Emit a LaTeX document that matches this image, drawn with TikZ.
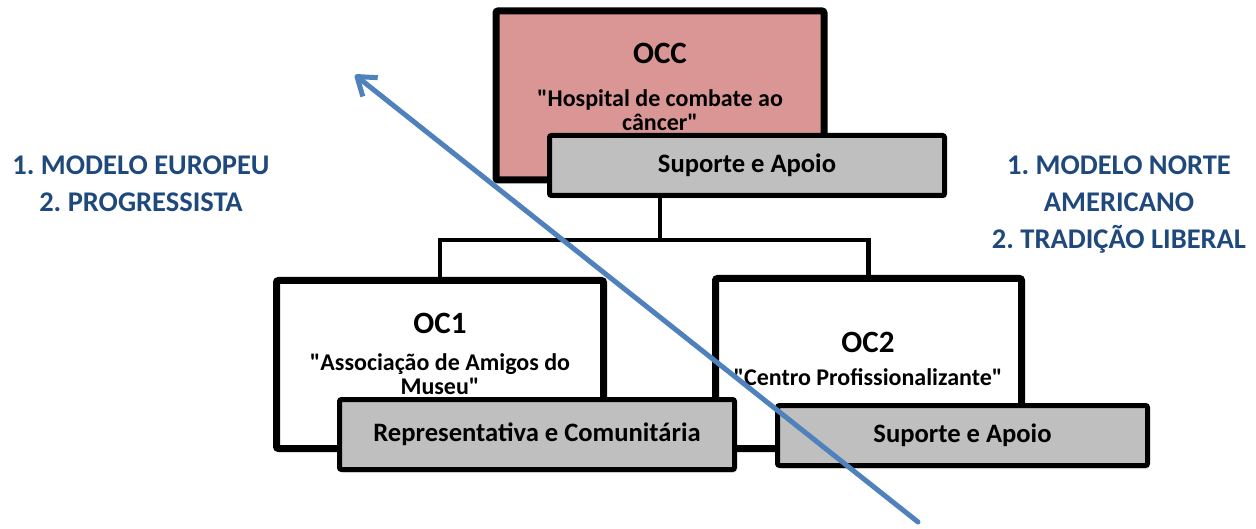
\documentclass[tikz,border=0pt]{standalone}
\usepackage{fontspec}
\setmainfont{Carlito}[Ligatures=TeXOff]
\usetikzlibrary{arrows.meta,shadows}
\definecolor{occfill}{HTML}{D99694}
\definecolor{bandfill}{HTML}{BFBFBF}
\definecolor{modelblue}{HTML}{1F497D}
\definecolor{arrowblue}{HTML}{4F81BD}
\newcommand{\dq}{\symbol{34}}
\frenchspacing
\begin{document}
\begin{tikzpicture}[x=1pt,y=-1pt,
  softshadow/.style={drop shadow={opacity=0.25,shadow xshift=2pt,shadow yshift=-3pt}},
  orgbox/.style={draw=black, line width=7pt, rounded corners=2pt, inner sep=0pt, softshadow},
  bandbox/.style={draw=black, line width=5pt, fill=bandfill, rounded corners=2pt, inner sep=0pt, softshadow},
  titletext/.style={font=\bfseries\fontsize{31}{31}\selectfont},
  subtext/.style={font=\bfseries\fontsize{24}{24}\selectfont, align=center},
  bandtext/.style={font=\bfseries\fontsize{26.6}{26}\selectfont},
  modeltext/.style={text=modelblue, font=\bfseries\fontsize{28.5}{37}\selectfont, align=center},
  conn/.style={draw=black, line width=4.5pt},
  bigarrow/.style={draw=arrowblue, line width=5pt, line cap=round,
    -{Straight Barb[length=17pt,width=24pt,line join=round]}}]
\useasboundingbox (0,0) rectangle (1256,529);

% boxes (positions only)
\coordinate (bus) at (660,240);
\path (660,95.5) node[orgbox, fill=occfill, minimum width=328pt, minimum height=169pt] (occ) {};
\draw[conn] (occ.south) -- (bus);
\path (440,364.5) coordinate (oc1pos);
\path (868.5,363.5) coordinate (oc2pos);
\draw[conn] (oc1pos |- 0,300) |- (bus) -| (oc2pos |- 0,300);
\path (747,165.5) node[bandbox, minimum width=395pt, minimum height=60pt] (occband) {};
\path (oc1pos) node[orgbox, fill=white, minimum width=327pt, minimum height=168pt] (oc1) {};
\path (oc2pos) node[orgbox, fill=white, minimum width=306pt, minimum height=170pt] (oc2) {};
\path (537,434.5) node[bandbox, minimum width=395pt, minimum height=70pt] (oc1band) {};
\path (962.5,435.5) node[bandbox, minimum width=370pt, minimum height=60pt] (oc2band) {};

% texts
\node[titletext] (occtitle) at (660,53) {OCC};
\node[subtext] (occsub) at (660,110.5) {\dq Hospital de combate ao\\câncer\dq};
\node[bandtext] (occbandtext) at (occband) {Suporte e Apoio};

\node[titletext] (oc1title) at (440,323) {OC1};
\node[subtext] (oc1sub) at (440,374) {\dq Associação de Amigos do\\Museu\dq};
\node[bandtext] (oc1bandtext) at (oc1band) {Representativa e Comunitária};

\node[titletext] (oc2title) at (868,342) {OC2};
\node[subtext] (oc2sub) at (868,377) {\dq Centro Profissionalizante\dq};
\node[bandtext] (oc2bandtext) at (oc2band) {Suporte e Apoio};

\node[modeltext] (leftmodel) at (141,184) {1. MODELO EUROPEU\\2. PROGRESSISTA};
\node[modeltext] (rightmodel) at (1119,205) {1. MODELO NORTE\\AMERICANO\\2. TRADIÇÃO LIBERAL};

% diagonal arrow
\coordinate (arrowtail) at (918,522);
\coordinate (arrowtip) at (355,75);
\draw[bigarrow] (arrowtail) -- (arrowtip);
\end{tikzpicture}
\end{document}
